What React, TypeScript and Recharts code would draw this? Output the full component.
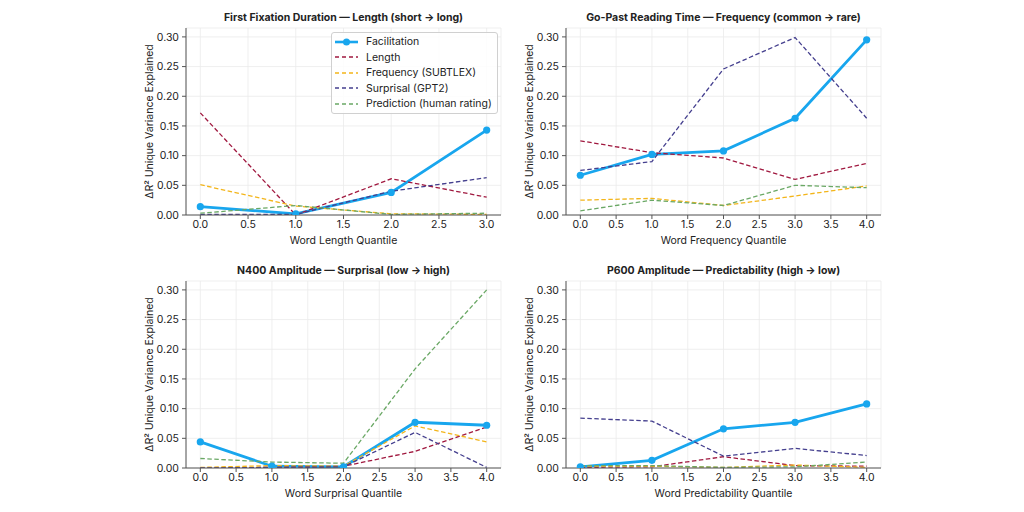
import React from "react";
import { LineChart, Line, XAxis, YAxis, CartesianGrid, Legend } from "recharts";

// quantile positions
const quantiles4 = [0, 1, 2, 3];
const quantiles5 = [0, 1, 2, 3, 4];

// First Fixation Duration — Length
const ffdFacilitation = [0.014, 0.002, 0.038, 0.143];
const ffdLength = [0.172, 0.0, 0.061, 0.03];
const ffdFrequency = [0.051, 0.015, 0.002, 0.001];
const ffdSurprisal = [0.001, 0.001, 0.04, 0.063];
const ffdPrediction = [0.003, 0.016, 0.001, 0.003];

// Go-Past Reading Time — Frequency
const gpFacilitation = [0.067, 0.102, 0.108, 0.163, 0.295];
const gpLength = [0.125, 0.105, 0.096, 0.06, 0.087];
const gpFrequency = [0.025, 0.028, 0.016, 0.032, 0.049];
const gpSurprisal = [0.075, 0.09, 0.246, 0.299, 0.163];
const gpPrediction = [0.007, 0.025, 0.016, 0.05, 0.046];

// N400 Amplitude — Surprisal
const n4Facilitation = [0.044, 0.003, 0.002, 0.077, 0.072];
const n4Length = [0.0, 0.001, 0.003, 0.028, 0.069];
const n4Frequency = [0.001, 0.004, 0.003, 0.071, 0.044];
const n4Surprisal = [0.0, 0.001, 0.002, 0.06, 0.001];
const n4Prediction = [0.016, 0.01, 0.008, 0.167, 0.3];

// P600 Amplitude — Predictability
const p6Facilitation = [0.002, 0.013, 0.066, 0.077, 0.108];
const p6Length = [0.001, 0.002, 0.019, 0.004, 0.003];
const p6Frequency = [0.003, 0.003, 0.001, 0.005, 0.001];
const p6Surprisal = [0.084, 0.079, 0.02, 0.033, 0.021];
const p6Prediction = [0.004, 0.004, 0.001, 0.002, 0.01];

const yTicks = [0, 0.05, 0.1, 0.15, 0.2, 0.25, 0.3];
const xTicks4 = [0, 0.5, 1, 1.5, 2, 2.5, 3];
const xTicks5 = [0, 0.5, 1, 1.5, 2, 2.5, 3, 3.5, 4];

const SERIES = [
  { key: "facilitation", name: "Facilitation", color: "#18a6ee", main: true },
  { key: "length", name: "Length", color: "#a0183f", main: false },
  { key: "frequency", name: "Frequency (SUBTLEX)", color: "#f3b51a", main: false },
  { key: "surprisal", name: "Surprisal (GPT2)", color: "#443f8e", main: false },
  { key: "prediction", name: "Prediction (human rating)", color: "#6aa865", main: false },
];

const FONT = "Inter, 'DejaVu Sans', sans-serif";

function makeRows(xs: number[], f: number[], l: number[], fr: number[], s: number[], p: number[]) {
  return xs.map((q, i) => ({
    q,
    facilitation: f[i],
    length: l[i],
    frequency: fr[i],
    surprisal: s[i],
    prediction: p[i],
  }));
}

const seriesIndex = (name: string) => SERIES.findIndex((x) => x.name === name);

const LegendBox = (props: any) => {
  const payload = [...(props.payload || [])].sort(
    (a: any, b: any) => seriesIndex(a.value) - seriesIndex(b.value)
  );
  return (
    <div
      style={{
        border: "1px solid #d0d0d0",
        borderRadius: 3,
        background: "rgba(255,255,255,0.85)",
        padding: "1px 5px 1px 3px",
        fontFamily: FONT,
        fontSize: 10.5,
        color: "#222",
      }}
    >
      {payload.map((entry: any) => {
        const s = SERIES[Math.max(0, seriesIndex(entry.value))];
        return (
          <div key={entry.value} style={{ display: "flex", alignItems: "center", height: 15.5 }}>
            <svg width={24} height={10} style={{ marginRight: 7 }}>
              <line
                x1={0}
                y1={5}
                x2={23}
                y2={5}
                stroke={s.color}
                strokeWidth={s.main ? 2.6 : 1.4}
                strokeDasharray={s.main ? undefined : "4 3"}
              />
              {s.main && <circle cx={11.5} cy={5} r={3.5} fill={s.color} />}
            </svg>
            <span style={{ whiteSpace: "nowrap" }}>{entry.value}</span>
          </div>
        );
      })}
    </div>
  );
};

type PanelProps = {
  title: string;
  xLabel: string;
  rows: any[];
  xTicks: number[];
  xMax: number;
  left: number;
  top: number;
  showLegend?: boolean;
};

function Panel({ title, xLabel, rows, xTicks, xMax, left, top, showLegend }: PanelProps) {
  const pad = xMax * 0.05;
  const tickStyle = { fontSize: 10.5, fill: "#222", fontFamily: FONT };
  return (
    <div style={{ position: "absolute", left, top, width: 380, height: 250 }}>
      <div
        style={{
          position: "absolute",
          left: 56,
          width: 315,
          top: 11,
          height: 14,
          lineHeight: "14px",
          textAlign: "center",
          fontWeight: 700,
          fontSize: 10.5,
          color: "#222",
          fontFamily: FONT,
          whiteSpace: "nowrap",
        }}
      >
        {title}
      </div>
      <LineChart width={380} height={250} data={rows} margin={{ top: 28, right: 9, bottom: 5, left: 16 }}>
        <CartesianGrid stroke="#ebebeb" strokeWidth={0.8} />
        <XAxis
          dataKey="q"
          type="number"
          domain={[-pad, xMax + pad]}
          ticks={xTicks}
          allowDataOverflow
          tickFormatter={(v: number) => v.toFixed(1)}
          height={30}
          tick={tickStyle}
          tickSize={4}
          tickMargin={2}
          axisLine={{ stroke: "#555" }}
          tickLine={{ stroke: "#555" }}
          label={{ value: xLabel, position: "insideBottom", offset: 1, style: { fontSize: 10.5, fill: "#222", fontFamily: FONT } }}
        />
        <XAxis xAxisId="frame" orientation="top" type="number" domain={[-pad, xMax + pad]} height={0} tick={false} tickLine={false} axisLine={{ stroke: "#555" }} />
        <YAxis
          type="number"
          domain={[0, 0.315]}
          ticks={yTicks}
          allowDataOverflow
          tickFormatter={(v: number) => v.toFixed(2)}
          width={40}
          tick={tickStyle}
          tickSize={4}
          tickMargin={3}
          axisLine={{ stroke: "#555" }}
          tickLine={{ stroke: "#555" }}
          label={{
            value: "ΔR² Unique Variance Explained",
            angle: -90,
            position: "insideLeft",
            offset: 3,
            style: { textAnchor: "middle", fontSize: 10.5, fill: "#222", fontFamily: FONT },
          }}
        />
        <YAxis yAxisId="frame" orientation="right" type="number" domain={[0, 0.315]} width={0} tick={false} tickLine={false} axisLine={{ stroke: "#555" }} />
        {SERIES.map((s) =>
          s.main ? (
            <Line
              key={s.key}
              dataKey={s.key}
              name={s.name}
              stroke={s.color}
              strokeWidth={2.8}
              dot={{ r: 3.6, fill: s.color, stroke: s.color, strokeWidth: 0 }}
              activeDot={false}
              isAnimationActive={false}
            />
          ) : (
            <Line
              key={s.key}
              dataKey={s.key}
              name={s.name}
              stroke={s.color}
              strokeWidth={1.3}
              strokeDasharray="4.5 2.5"
              dot={false}
              activeDot={false}
              isAnimationActive={false}
            />
          )
        )}
        {showLegend && (
          <Legend
            layout="vertical"
            align="center"
            verticalAlign="middle"
            content={LegendBox}
            wrapperStyle={{ left: 201, top: 32, width: "auto", height: "auto" }}
          />
        )}
      </LineChart>
    </div>
  );
}

export default function App() {
  return (
    <div style={{ position: "absolute", left: 0, top: 0, width: 1024, height: 512, background: "#fff", fontFamily: FONT }}>
      <Panel
        title="First Fixation Duration — Length (short → long)"
        xLabel="Word Length Quantile"
        rows={makeRows(quantiles4, ffdFacilitation, ffdLength, ffdFrequency, ffdSurprisal, ffdPrediction)}
        xTicks={xTicks4}
        xMax={3}
        left={130}
        top={0}
        showLegend
      />
      <Panel
        title="Go-Past Reading Time — Frequency (common → rare)"
        xLabel="Word Frequency Quantile"
        rows={makeRows(quantiles5, gpFacilitation, gpLength, gpFrequency, gpSurprisal, gpPrediction)}
        xTicks={xTicks5}
        xMax={4}
        left={510}
        top={0}
      />
      <Panel
        title="N400 Amplitude — Surprisal (low → high)"
        xLabel="Word Surprisal Quantile"
        rows={makeRows(quantiles5, n4Facilitation, n4Length, n4Frequency, n4Surprisal, n4Prediction)}
        xTicks={xTicks5}
        xMax={4}
        left={130}
        top={253.3}
      />
      <Panel
        title="P600 Amplitude — Predictability (high → low)"
        xLabel="Word Predictability Quantile"
        rows={makeRows(quantiles5, p6Facilitation, p6Length, p6Frequency, p6Surprisal, p6Prediction)}
        xTicks={xTicks5}
        xMax={4}
        left={510}
        top={253.3}
      />
    </div>
  );
}
